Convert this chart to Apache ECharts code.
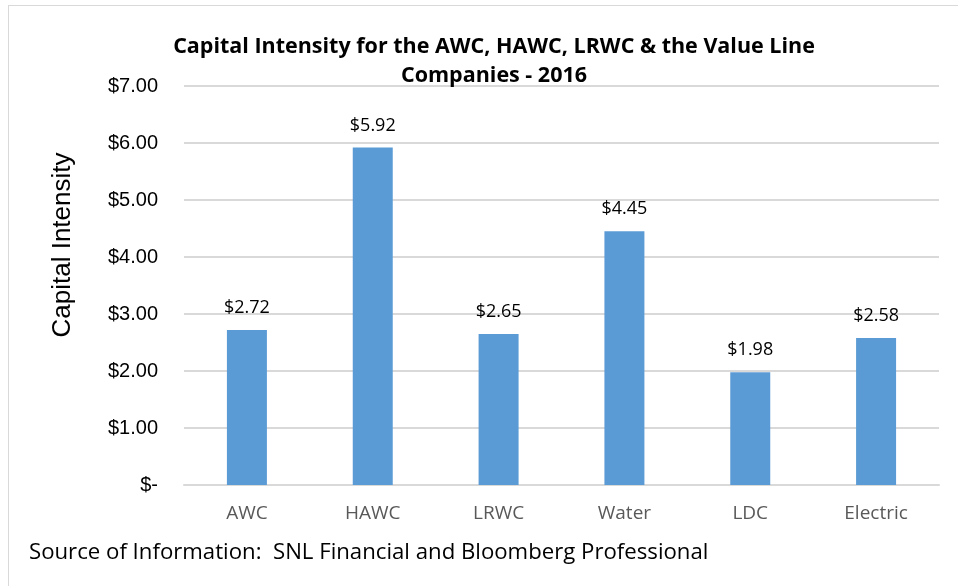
<!DOCTYPE html>
<html>
<head>
<meta charset="utf-8">
<script src="https://cdn.jsdelivr.net/npm/echarts@6/dist/echarts.min.js"></script>
<style>
  html, body { margin: 0; padding: 0; background: #fff; }
  #chart { width: 958px; height: 586px; }
  .frame {
    position: absolute; left: 8px; top: 5px; width: 970px; height: 600px;
    border: 1px solid #d9d9d9; box-sizing: border-box; pointer-events: none;
  }
</style>
</head>
<body>
<div class="frame"></div>
<div id="chart"></div>
<script>
// data
var categories = ["AWC", "HAWC", "LRWC", "Water", "LDC", "Electric"];
var intensity = [2.72, 5.92, 2.65, 4.45, 1.98, 2.58];

var chart = echarts.init(document.getElementById("chart"));

function money(v) {
  return v === 0 ? "$-" : "$" + v.toFixed(2);
}

chart.setOption({
  animation: false,
  title: {
    text: "Capital Intensity for the AWC, HAWC, LRWC & the Value Line\nCompanies - 2016",
    left: 489,
    top: 27,
    textAlign: "center",
    textStyle: {
      fontFamily: "Open Sans",
      fontWeight: "bold",
      fontSize: 21.5,
      lineHeight: 29,
      color: "#000"
    }
  },
  graphic: [{
    type: "text",
    left: 29,
    top: 542,
    style: {
      text: "Source of Information:  SNL Financial and Bloomberg Professional",
      font: "22.2px 'Open Sans'",
      fill: "#000"
    }
  }, {
    type: "text",
    x: 63,
    y: 245,
    rotation: Math.PI / 2,
    style: {
      text: "Capital Intensity",
      font: "26px 'Liberation Sans'",
      fill: "#000",
      align: "center",
      verticalAlign: "middle"
    }
  }],
  grid: {
    left: 184,
    right: 19,
    top: 86,
    bottom: 101
  },
  xAxis: {
    type: "category",
    data: categories,
    axisLine: { lineStyle: { color: "#d9d9d9", width: 2 } },
    axisTick: { show: false },
    axisLabel: {
      margin: 19,
      fontFamily: "Open Sans",
      fontSize: 19,
      color: "#595959"
    }
  },
  yAxis: {
    type: "value",
    min: 0,
    max: 7,
    interval: 1,
    axisLabel: {
      margin: 26,
      fontFamily: "Liberation Sans",
      fontSize: 20,
      color: "#000",
      formatter: money
    },
    splitLine: { lineStyle: { color: "#d9d9d9", width: 2 } }
  },
  series: [{
    type: "bar",
    data: intensity,
    barWidth: 40,
    itemStyle: { color: "#5b9bd5" },
    label: {
      show: true,
      position: "top",
      distance: 13,
      fontFamily: "Open Sans",
      fontSize: 18,
      color: "#000",
      formatter: function (p) { return money(p.value); }
    }
  }]
});
</script>
</body>
</html>
